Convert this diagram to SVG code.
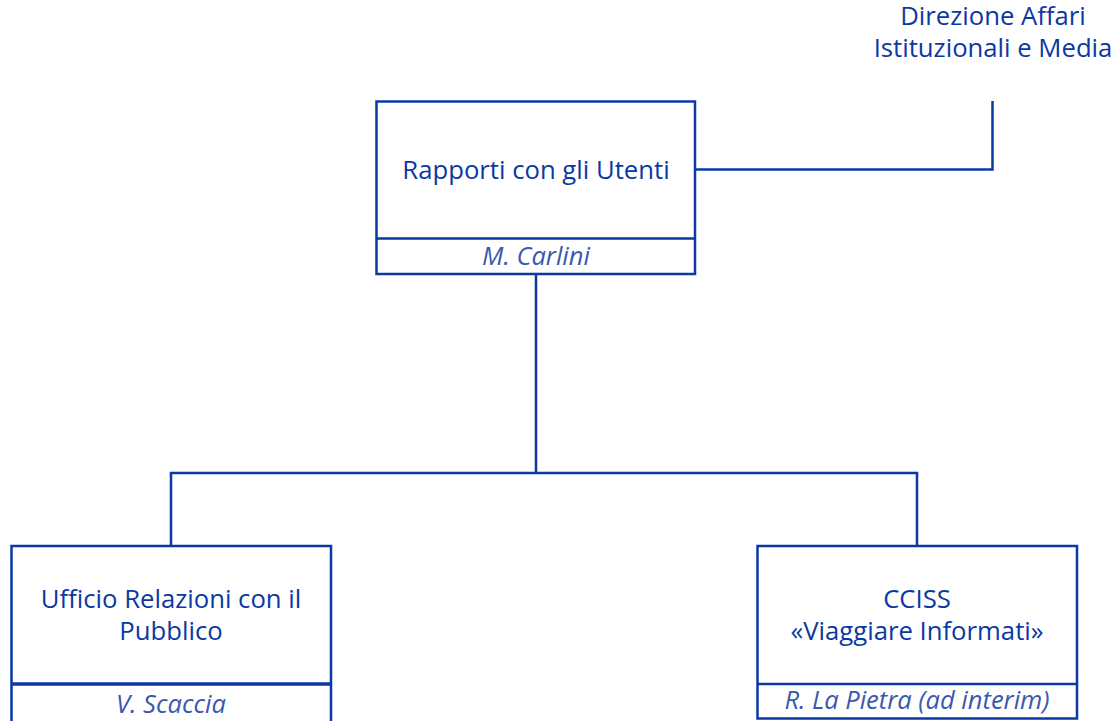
<svg xmlns="http://www.w3.org/2000/svg" width="1115" height="721" viewBox="0 0 1115 721">
<style>
.box{fill:#fff;stroke:#0b38a3;stroke-width:2.5}
.div{stroke:#0b38a3;stroke-width:2.5}
.t{font-family:"Open Sans","Noto Sans",sans-serif;font-size:25.7px;fill:#0b38a3;text-anchor:middle}
.n{font-family:"Open Sans","Noto Sans",sans-serif;font-size:25.5px;font-style:italic;fill:#3a58b0;text-anchor:middle}
.c{fill:none;stroke:#0b38a3;stroke-width:2.5}
</style>
<rect width="1115" height="721" fill="#fff"/>
<g id="connectors">
<path class="c" d="M695 169.5H992.5V101"/>
<path class="c" d="M536 274V473M171 546V473H917V546"/>
</g>
<g id="node-direzione">
<text class="t" x="993" y="25">Direzione Affari</text>
<text class="t" x="993" y="57">Istituzionali e Media</text>
</g>
<g id="node-rapporti">
<rect class="box" x="376.5" y="101.5" width="318.5" height="172.5"/>
<line class="div" x1="376.5" y1="238.5" x2="695" y2="238.5"/>
<text class="t" x="536" y="179">Rapporti con gli Utenti</text>
<text class="n" x="536" y="265">M. Carlini</text>
</g>
<g id="node-urp">
<rect class="box" x="11.5" y="546" width="319.5" height="180"/>
<line x1="11.5" y1="684" x2="331" y2="684" stroke="#0b38a3" stroke-width="3.5"/>
<text class="t" x="171" y="608">Ufficio Relazioni con il</text>
<text class="t" x="171" y="640">Pubblico</text>
<text class="n" x="171" y="713">V. Scaccia</text>
</g>
<g id="node-cciss">
<rect class="box" x="757.5" y="546" width="319.5" height="172.5"/>
<line class="div" x1="757.5" y1="684" x2="1077" y2="684"/>
<text class="t" x="917" y="608">CCISS</text>
<text class="t" x="917" y="640">«Viaggiare Informati»</text>
<text class="n" x="917" y="709">R. La Pietra (ad interim)</text>
</g>
</svg>
